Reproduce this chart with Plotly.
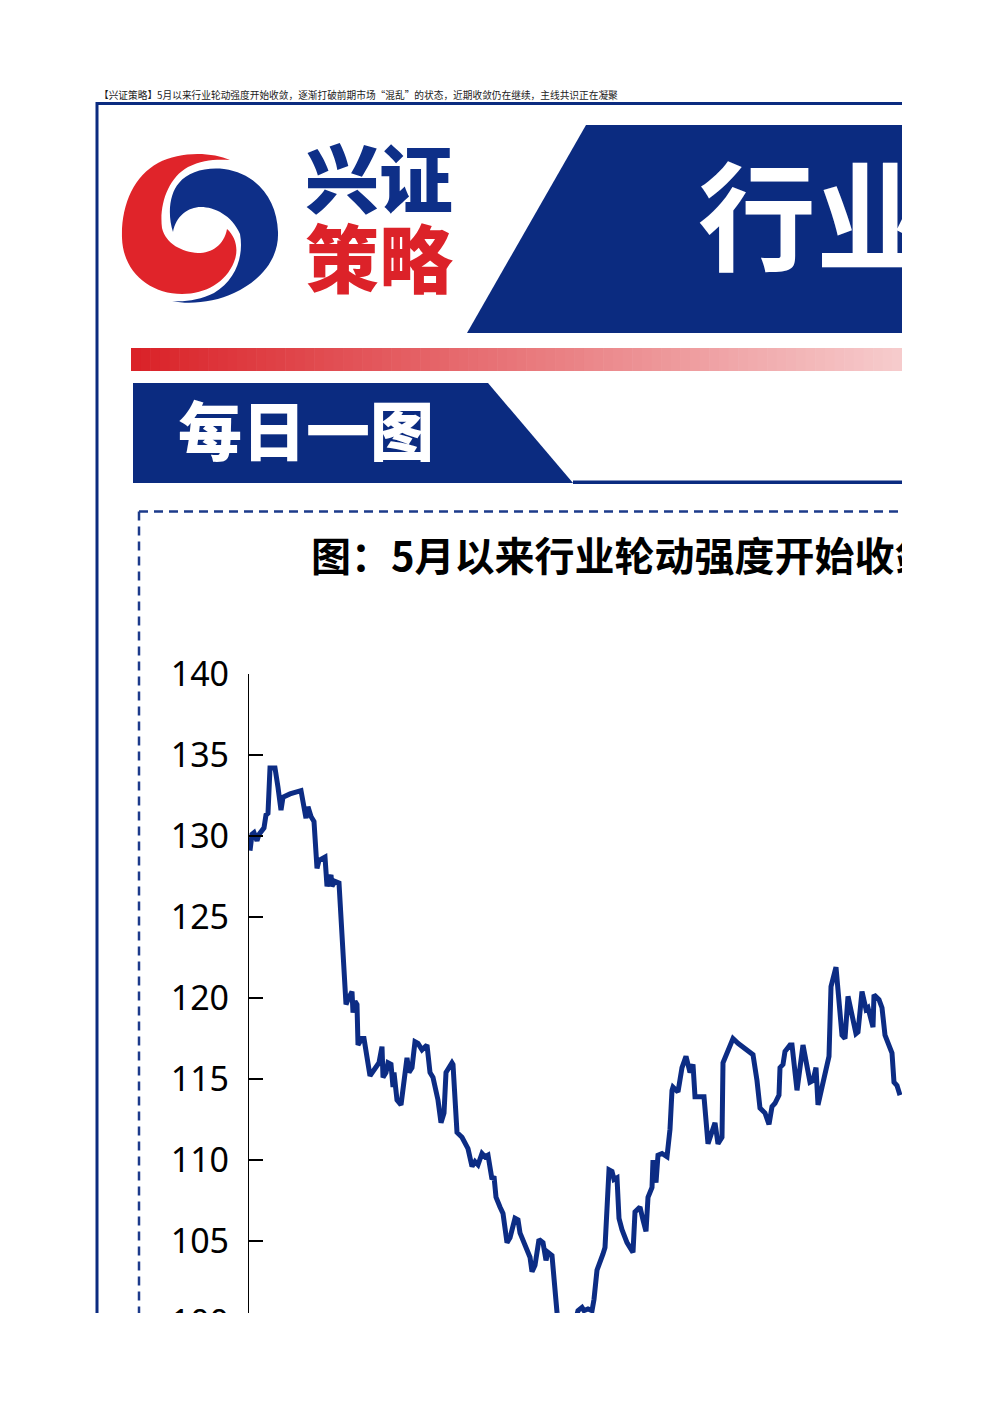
import numpy as np
import plotly.graph_objects as go

# ---------------- data ----------------
day_index = [0, 2, 4, 7, 9, 12, 14, 16, 18, 20, 25, 28, 31, 33, 40, 51, 54, 56, 58, 61,
             64, 66, 67, 69, 75, 77, 81, 82, 85, 89, 92, 93, 96, 98, 102, 103, 105, 107, 108, 112,
             114, 120, 125, 129, 132, 133, 136, 138, 141, 143, 144, 147, 151, 154, 157, 159, 162, 165, 168, 172,
             177, 180, 183, 188, 191, 194, 196, 202, 203, 207, 210, 212, 218, 222, 225, 228, 232, 235, 238, 242,
             244, 246, 250, 253, 257, 260, 265, 268, 270, 276, 280, 282, 285, 289, 293, 296, 298, 302, 305, 307,
             311, 315, 319, 323, 326, 328, 332, 334, 338, 342, 344, 347, 353, 355, 359, 362, 364, 367, 369, 372,
             377, 381, 383, 385, 390, 393, 396, 398, 402, 403, 406, 408, 412, 417, 420, 422, 423, 428, 432, 436,
             438, 440, 443, 445, 450, 454, 458, 462, 465, 468, 472, 473, 478, 483, 488, 503, 507, 510, 515, 519,
             522, 525, 529, 530, 533, 535, 540, 542, 547, 553, 560, 563, 566, 568, 572, 575, 579, 581, 586, 592,
             595, 598, 603, 606, 608, 612, 616, 618, 623, 624, 629, 632, 635, 642, 644, 647, 650]
rotation_strength = [129.1, 130.1, 130.2, 129.7, 130.1, 130.4, 130.5, 131.3, 131.4, 134.2, 134.2, 133.0, 131.6, 132.4, 132.6, 132.8, 131.9, 131.1, 131.8, 131.2,
                     130.9, 128.8, 128.0, 128.5, 128.7, 126.9, 127.6, 126.9, 127.2, 127.1, 123.6, 122.0, 119.6, 119.9, 120.4, 119.1, 119.8, 119.6, 117.1, 117.5,
                     117.5, 115.2, 115.6, 116.0, 117.0, 115.1, 115.4, 116.0, 115.9, 114.5, 115.4, 113.7, 113.4, 114.9, 116.3, 115.4, 115.7, 117.3, 117.2, 116.8,
                     117.1, 115.4, 115.1, 113.7, 112.3, 112.9, 115.4, 116.0, 115.9, 111.7, 111.5, 111.4, 110.7, 109.6, 109.9, 109.7, 110.4, 110.2, 110.3, 108.8,
                     109.0, 107.7, 107.1, 106.7, 104.9, 105.2, 106.4, 106.3, 105.5, 104.6, 104.0, 103.1, 103.5, 105.1, 104.9, 103.8, 104.3, 104.1, 101.4, 100.6,
                     99.6, 99.1, 99.7, 99.3, 100.2, 100.7, 100.9, 100.7, 100.8, 100.7, 101.4, 103.2, 104.2, 104.6, 109.4, 109.3, 108.8, 108.9, 106.4, 105.7,
                     104.9, 104.4, 104.3, 106.8, 107.1, 106.3, 105.6, 107.7, 108.3, 110.0, 108.6, 110.3, 110.4, 110.2, 111.9, 114.3, 114.5, 114.2, 115.7, 116.4,
                     115.9, 115.4, 115.9, 113.9, 113.9, 113.9, 111.0, 111.7, 112.3, 111.0, 111.4, 116.0, 116.8, 117.5, 117.2, 116.5, 114.9, 113.2, 112.9, 112.2,
                     113.3, 113.5, 114.0, 115.7, 115.9, 116.7, 117.1, 117.1, 114.3, 117.1, 114.8, 114.9, 115.7, 113.4, 114.5, 115.4, 116.4, 120.7, 121.9, 117.7,
                     117.5, 120.1, 118.8, 117.8, 117.9, 120.4, 119.3, 119.4, 118.2, 120.2, 119.9, 119.4, 117.7, 116.6, 114.8, 114.6, 114.0]
y_ticks = [95, 100, 105, 110, 115, 120, 125, 130, 135, 140]

header_text = "【兴证策略】5月以来行业轮动强度开始收敛，逐渐打破前期市场“混乱”的状态，近期收敛仍在继续，主线共识正在凝聚"
brand_top = "兴证"
brand_bottom = "策略"
banner_text = "行业轮动"
section_text = "每日一图"
chart_title = "图：5月以来行业轮动强度开始收敛"

# ---------------- page decoration ----------------
W, H = 992, 1403
NAVY = "#0b2b80"
LINE = "#0c2c84"
RED = "#dc2229"
LOGO_RED = "#e0242a"
LOGO_BLUE = "#0e2f88"
CJK = "Noto Sans CJK SC"

shapes = []


def prect(x0, y0, x1, y1, color, layer="below"):
    shapes.append(dict(type="rect", xref="x2", yref="y2", x0=x0, x1=x1, y0=y0, y1=y1,
                       fillcolor=color, line=dict(width=0), layer=layer))


def ppath(path, color, layer="below"):
    shapes.append(dict(type="path", xref="x2", yref="y2", path=path,
                       fillcolor=color, line=dict(width=0), layer=layer))


# page frame
prect(96, 102, 902, 105, NAVY)
prect(95.5, 102, 98.5, 1313, NAVY)

# logo: two interlocking commas
red_comma = ("M230,160 C212,152 180,151 158,163 C134,176 121,205 122,238 "
             "C123,272 150,294 182,294 C206,294 226,282 234,262 C239,250 236,237 227,229 "
             "C224,245 212,253 198,253 C182,252 166,244 162,228 "
             "C159,205 168,178 188,167 C202,160 216,159 230,160 Z")
blue_comma = ("M172,301 C190,305 215,302 234,293 C262,280 279,258 278,232 "
              "C277,200 258,174 224,169 C205,167 188,172 179,183 C170,193 167,213 173,232 "
              "C176,216 188,207 201,207 C214,207 232,215 240,234 "
              "C244,256 236,280 214,293 C200,300 185,302 172,301 Z")
ppath(red_comma, LOGO_RED)
ppath(blue_comma, LOGO_BLUE)

# top banner
ppath("M586,125 L902,125 L902,333 L467,333 Z", NAVY)

# gradient bar
n_sl = 80
x_start, x_end = 131, 902
c0 = np.array([218, 34, 40])
c1 = np.array([246, 203, 204])
for i in range(n_sl):
    t = i / (n_sl - 1)
    c = (c0 + (c1 - c0) * t).round().astype(int)
    xa = x_start + (x_end - x_start) * i / n_sl
    xb = x_start + (x_end - x_start) * (i + 1) / n_sl + 0.6
    prect(xa, 348, min(xb, x_end), 371, f"rgb({c[0]},{c[1]},{c[2]})")

# section banner
ppath("M133,383 L488,383 L573,483 L133,483 Z", NAVY)
prect(573, 480.5, 902, 484, NAVY)

# dashed box
shapes.append(dict(type="line", xref="x2", yref="y2", x0=139, x1=902, y0=511.5, y1=511.5,
                   line=dict(color="#1d3b8b", width=2.5, dash="9px,6px"), layer="below"))
shapes.append(dict(type="line", xref="x2", yref="y2", x0=139, x1=139, y0=511.5, y1=1313,
                   line=dict(color="#1d3b8b", width=2.5, dash="9px,6px"), layer="below"))

# crop masks (the reference page is cut at right and bottom)
shapes.append(dict(type="rect", xref="paper", yref="paper", x0=902 / W, x1=1, y0=0, y1=1,
                   fillcolor="white", line=dict(width=0), layer="above"))
shapes.append(dict(type="rect", xref="paper", yref="paper", x0=0, x1=1, y0=0, y1=1 - 1313 / H,
                   fillcolor="white", line=dict(width=0), layer="above"))

fig = go.Figure()

# main line
fig.add_trace(go.Scatter(x=day_index, y=rotation_strength, mode="lines",
                         line=dict(color=LINE, width=5), xaxis="x", yaxis="y",
                         showlegend=False, hoverinfo="skip"))

# clipped texts as text traces (so the crop mask covers them)
fig.add_trace(go.Scatter(x=[698], y=[232], mode="text", text=[banner_text], textposition="middle right",
                         textfont=dict(family=CJK, size=118, color="white", weight=700),
                         xaxis="x2", yaxis="y2", showlegend=False, hoverinfo="skip"))
fig.add_trace(go.Scatter(x=[311], y=[561], mode="text", text=[chart_title], textposition="middle right",
                         textfont=dict(family=CJK, size=40, color="black", weight=700),
                         xaxis="x2", yaxis="y2", showlegend=False, hoverinfo="skip"))

annotations = [
    dict(x=97, y=95, xref="x2", yref="y2", text=header_text, showarrow=False, xanchor="left",
         yanchor="middle", font=dict(family=CJK, size=9.7, color="#1a1a1a")),
    dict(x=379, y=174, xref="x2", yref="y2", text=brand_top, showarrow=False, xanchor="center",
         yanchor="middle", font=dict(family=CJK, size=74, color=LOGO_BLUE, weight=900)),
    dict(x=379, y=254, xref="x2", yref="y2", text=brand_bottom, showarrow=False, xanchor="center",
         yanchor="middle", font=dict(family=CJK, size=74, color=RED, weight=900)),
    dict(x=306, y=427, xref="x2", yref="y2", text=section_text, showarrow=False, xanchor="center",
         yanchor="middle", font=dict(family=CJK, size=64, color="white", weight=900)),
]

fig.update_layout(
    width=W, height=H,
    margin=dict(l=0, r=0, t=0, b=0, autoexpand=False),
    paper_bgcolor="white", plot_bgcolor="rgba(0,0,0,0)",
    showlegend=False,
    shapes=shapes, annotations=annotations,
    xaxis=dict(domain=[249 / W, 902 / W], range=[-1, 652], visible=False, fixedrange=True),
    yaxis=dict(domain=[0, 1 - 674 / H], range=[95, 140], tickvals=y_ticks,
               showline=True, linecolor="black", linewidth=1.3,
               ticks="inside", ticklen=14, tickwidth=1.5, tickcolor="black",
               showgrid=False, zeroline=False, ticklabelstandoff=12, automargin=False,
               tickfont=dict(family="Noto Sans", size=34, color="black"), fixedrange=True),
    xaxis2=dict(domain=[0, 1], range=[0, W], visible=False, anchor="y2", fixedrange=True),
    yaxis2=dict(domain=[0, 1], range=[H, 0], visible=False, anchor="x2", fixedrange=True),
)

fig.write_html("out.html", post_script="document.body.style.margin='0';",
               config={"displayModeBar": False})
